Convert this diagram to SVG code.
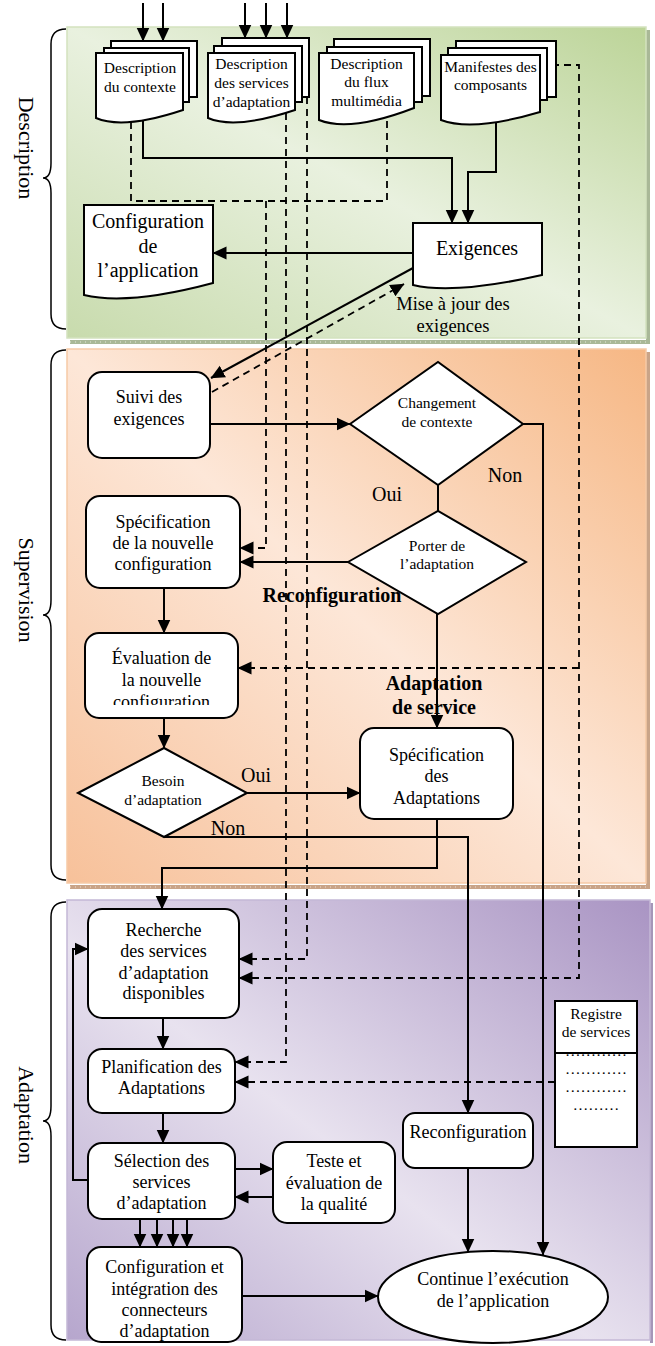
<svg xmlns="http://www.w3.org/2000/svg" width="655" height="1346" viewBox="0 0 655 1346">
<defs>
<linearGradient id="gG" x1="1" y1="0" x2="0" y2="1">
<stop offset="0" stop-color="#bcd498"/><stop offset="0.5" stop-color="#e9f1df"/><stop offset="1" stop-color="#c8dbad"/>
</linearGradient>
<linearGradient id="gO" x1="1" y1="0" x2="0" y2="1">
<stop offset="0" stop-color="#f6b784"/><stop offset="0.5" stop-color="#fde7d8"/><stop offset="1" stop-color="#f7c19a"/>
</linearGradient>
<linearGradient id="gP" x1="1" y1="0" x2="0" y2="1">
<stop offset="0" stop-color="#a994c3"/><stop offset="0.55" stop-color="#e8e2ef"/><stop offset="1" stop-color="#b6a6cd"/>
</linearGradient>
<marker id="ah" markerUnits="userSpaceOnUse" markerWidth="14" markerHeight="14" viewBox="0 0 14 14" refX="13.5" refY="7" orient="auto">
<path d="M0,0.5 L14,7 L0,13.5 Z" fill="#000"/>
</marker>
<clipPath id="evalClip"><rect x="85" y="633" width="153" height="72"/></clipPath>
</defs>
<style>
.box{fill:#fff;stroke:#000;stroke-width:2}
.ln{fill:none;stroke:#000;stroke-width:2}
.dl{fill:none;stroke:#000;stroke-width:1.8;stroke-dasharray:7 5}
.br{fill:none;stroke:#000;stroke-width:1.5}
text{font-family:"Liberation Serif","Times New Roman",serif;fill:#000;text-anchor:middle}
.t15{font-size:15.5px}
.t18{font-size:18px}
.t20{font-size:20px}
.t185{font-size:18.5px}
.b20{font-size:20px;font-weight:bold}
.sec{font-size:22px}
.tick{stroke-width:1;stroke-dasharray:1 4}
</style>
<rect width="655" height="1346" fill="#fff"/>

<g id="panel-description">
<rect x="70" y="340" width="580" height="4" fill="#a9b897"/>
<rect x="646" y="30" width="4" height="314" fill="#a9b897"/>
<line class="tick" x1="70" y1="342" x2="650" y2="342" stroke="#e2e9d8"/>
<rect x="67" y="27" width="579" height="311" fill="url(#gG)" stroke="#d3e2bf" stroke-width="1.5"/>
</g>
<g id="panel-supervision">
<rect x="70" y="885" width="580" height="4" fill="#c9a488"/>
<rect x="646" y="352" width="4" height="537" fill="#c9a488"/>
<line class="tick" x1="70" y1="887" x2="650" y2="887" stroke="#f0dccd"/>
<rect x="67" y="349" width="579" height="534" fill="url(#gO)" stroke="#f6caa6" stroke-width="1.5"/>
</g>
<g id="panel-adaptation">
<rect x="650" y="903" width="3" height="440" fill="#a596b8"/>
<rect x="67" y="900" width="583" height="440" fill="url(#gP)" stroke="#c4b8d6" stroke-width="1.5"/>
</g>

<g id="section-labels">
<path class="br" d="M66,29 Q51,29 51,44 V163 Q51,178 43,178 Q51,178 51,193 V314 Q51,329 66,329"/>
<path class="br" d="M66,350 Q51,350 51,365 V600 Q51,615 43,615 Q51,615 51,630 V865 Q51,880 66,880"/>
<path class="br" d="M66,902 Q51,902 51,917 V1106 Q51,1121 43,1121 Q51,1121 51,1136 V1325 Q51,1340 66,1340"/>
<text class="sec" transform="translate(19,148) rotate(90)">Description</text>
<text class="sec" transform="translate(19,590) rotate(90)">Supervision</text>
<text class="sec" transform="translate(19,1115) rotate(90)">Adaptation</text>
</g>

<g id="connectors">
<path class="ln" d="M143,3 V41" marker-end="url(#ah)"/>
<path class="ln" d="M163,3 V41" marker-end="url(#ah)"/>
<path class="ln" d="M245,3 V38" marker-end="url(#ah)"/>
<path class="ln" d="M266,3 V38" marker-end="url(#ah)"/>
<path class="ln" d="M287,3 V38" marker-end="url(#ah)"/>
<path class="dl" d="M131,122 V201 H387 V110"/>
<path class="dl" d="M266,201 V548 H240" marker-end="url(#ah)"/>
<path class="dl" d="M286,113 V1062 H235" marker-end="url(#ah)"/>
<path class="dl" d="M307,97 V959 H239" marker-end="url(#ah)"/>
<path class="dl" d="M540,65 H579 V978 H239" marker-end="url(#ah)"/>
<path class="dl" d="M579,668 H238" marker-end="url(#ah)"/>
<path class="dl" d="M555,1082 H235" marker-end="url(#ah)"/>
<path class="dl" d="M212,392 L404,284" marker-end="url(#ah)"/>
<path class="ln" d="M143,120 V158 H452 V223" marker-end="url(#ah)"/>
<path class="ln" d="M496,122 V172 H468 V223" marker-end="url(#ah)"/>
<path class="ln" d="M413,253 H213" marker-end="url(#ah)"/>
<path class="ln" d="M413,268 L211,378" marker-end="url(#ah)"/>
<path class="ln" d="M208,424 H350" marker-end="url(#ah)"/>
<path class="ln" d="M523,424 H543 V1255" marker-end="url(#ah)"/>
<path class="ln" d="M438,485 V511"/>
<path class="ln" d="M348,562 H240" marker-end="url(#ah)"/>
<path class="ln" d="M437,614 V728" marker-end="url(#ah)"/>
<path class="ln" d="M164,588 V633" marker-end="url(#ah)"/>
<path class="ln" d="M164,718 V748" marker-end="url(#ah)"/>
<path class="ln" d="M247,793 H360" marker-end="url(#ah)"/>
<path class="ln" d="M164,837 H468 V1113" marker-end="url(#ah)"/>
<path class="ln" d="M437,811 V868 H162 V909" marker-end="url(#ah)"/>
<path class="ln" d="M163,1018 V1049" marker-end="url(#ah)"/>
<path class="ln" d="M163,1113 V1143" marker-end="url(#ah)"/>
<path class="ln" d="M88,1180 H73 V949 H88" marker-end="url(#ah)"/>
<path class="ln" d="M235,1169 H273" marker-end="url(#ah)"/>
<path class="ln" d="M273,1197 H235" marker-end="url(#ah)"/>
<path class="ln" d="M140,1219 V1247" marker-end="url(#ah)"/>
<path class="ln" d="M157,1219 V1247" marker-end="url(#ah)"/>
<path class="ln" d="M173,1219 V1247" marker-end="url(#ah)"/>
<path class="ln" d="M187,1219 V1247" marker-end="url(#ah)"/>
<path class="ln" d="M242,1296 H378" marker-end="url(#ah)"/>
<path class="ln" d="M468,1168 V1252" marker-end="url(#ah)"/>
</g>

<g id="doc-contexte">
<rect class="box" x="111" y="41" width="86" height="56"/>
<rect class="box" x="104" y="48" width="85" height="54"/>
<path class="box" d="M96,53 H183 V110 C135,126 110,124 96,118 Z"/>
<text class="t15" x="140" y="73">Description</text>
<text class="t15" x="140" y="92">du contexte</text>
</g>
<g id="doc-services">
<rect class="box" x="222" y="38" width="87" height="59"/>
<rect class="box" x="214" y="46" width="88" height="56"/>
<path class="box" d="M208,53 H295 V110 C247,126 222,124 208,118 Z"/>
<text class="t15" x="251.5" y="69">Description</text>
<text class="t15" x="251.5" y="88">des services</text>
<text class="t15" x="251.5" y="107">d’adaptation</text>
</g>
<g id="doc-flux">
<rect class="box" x="334" y="39" width="96" height="57"/>
<rect class="box" x="327" y="47" width="95" height="55"/>
<path class="box" d="M319,53 H414 V108 C362,128 334,126 319,120 Z"/>
<text class="t15" x="366.5" y="69">Description</text>
<text class="t15" x="366.5" y="87">du flux</text>
<text class="t15" x="366.5" y="106">multimédia</text>
</g>
<g id="doc-manifestes">
<rect class="box" x="456" y="41" width="100" height="56"/>
<rect class="box" x="448" y="48" width="99" height="52"/>
<path class="box" d="M441,55 H540 V112 C486,128 457,126 441,120 Z"/>
<text class="t15" x="490.5" y="72">Manifestes des</text>
<text class="t15" x="490.5" y="90">composants</text>
</g>
<g id="doc-exigences">
<path class="box" d="M413,223 H542 V275 C471,291 434,290 413,285 Z"/>
<text class="t20" x="477" y="255">Exigences</text>
</g>
<g id="doc-configuration">
<path class="box" d="M84,205 H213 V283 C142,302 105,300 84,295 Z"/>
<text class="t20" x="148" y="228">Configuration</text>
<text class="t20" x="148" y="253">de</text>
<text class="t20" x="148" y="277">l’application</text>
</g>

<g id="node-suivi">
<rect class="box" x="88" y="372" width="122" height="86" rx="14"/>
<text class="t18" x="149" y="403">Suivi des</text>
<text class="t18" x="149" y="425">exigences</text>
</g>
<g id="node-changement">
<path class="box" d="M350,424 L438,362 L523,424 L438,485 Z"/>
<text class="t15" x="437" y="408">Changement</text>
<text class="t15" x="437" y="427">de contexte</text>
</g>
<g id="node-porter">
<path class="box" d="M348,562 L438,511 L526,562 L438,614 Z"/>
<text class="t15" x="437" y="551">Porter de</text>
<text class="t15" x="437" y="569">l’adaptation</text>
</g>
<g id="node-spec-config">
<rect class="box" x="86" y="496" width="154" height="92" rx="14"/>
<text class="t18" x="163" y="528">Spécification</text>
<text class="t18" x="163" y="549">de la nouvelle</text>
<text class="t18" x="163" y="570">configuration</text>
</g>
<g id="node-evaluation">
<rect class="box" x="85" y="633" width="153" height="85" rx="14"/>
<g clip-path="url(#evalClip)">
<text class="t18" x="161.5" y="664">Évaluation de</text>
<text class="t18" x="161.5" y="686">la nouvelle</text>
<text class="t18" x="161.5" y="708">configuration</text>
</g>
</g>
<g id="node-besoin">
<path class="box" d="M78,793 L164,748 L247,793 L164,837 Z"/>
<text class="t15" x="163" y="786">Besoin</text>
<text class="t15" x="163" y="805">d’adaptation</text>
</g>
<g id="node-spec-adapt">
<rect class="box" x="360" y="728" width="153" height="91" rx="14"/>
<text class="t18" x="436.5" y="761">Spécification</text>
<text class="t18" x="436.5" y="782">des</text>
<text class="t18" x="436.5" y="804">Adaptations</text>
</g>
<g id="node-recherche">
<rect class="box" x="88" y="909" width="151" height="109" rx="14"/>
<text class="t18" x="163.5" y="936">Recherche</text>
<text class="t18" x="163.5" y="957">des services</text>
<text class="t18" x="163.5" y="979">d’adaptation</text>
<text class="t18" x="163.5" y="999">disponibles</text>
</g>
<g id="node-planification">
<rect class="box" x="88" y="1049" width="147" height="64" rx="14"/>
<text class="t18" x="161.5" y="1073">Planification des</text>
<text class="t18" x="161.5" y="1094">Adaptations</text>
</g>
<g id="node-selection">
<rect class="box" x="88" y="1143" width="147" height="76" rx="14"/>
<text class="t18" x="161.5" y="1167">Sélection des</text>
<text class="t18" x="161.5" y="1188">services</text>
<text class="t18" x="161.5" y="1209">d’adaptation</text>
</g>
<g id="node-teste">
<rect class="box" x="273" y="1142" width="122" height="81" rx="14"/>
<text class="t18" x="334" y="1167">Teste et</text>
<text class="t18" x="334" y="1189">évaluation de</text>
<text class="t18" x="334" y="1210">la qualité</text>
</g>
<g id="node-config-integration">
<rect class="box" x="87" y="1247" width="155" height="95" rx="14"/>
<text class="t18" x="164.5" y="1273">Configuration et</text>
<text class="t18" x="164.5" y="1295">intégration des</text>
<text class="t18" x="164.5" y="1316">connecteurs</text>
<text class="t18" x="164.5" y="1337">d’adaptation</text>
</g>
<g id="node-reconfiguration">
<rect class="box" x="403" y="1113" width="130" height="55" rx="12"/>
<text class="t18" x="468" y="1138">Reconfiguration</text>
</g>
<g id="node-registre">
<rect class="box" x="555" y="1001" width="82" height="146"/>
<line class="ln" x1="555" y1="1053" x2="637" y2="1053"/>
<text class="t15" x="596" y="1019">Registre</text>
<text class="t15" x="596" y="1037">de services</text>
<text class="t15" x="596" y="1056">…………</text>
<text class="t15" x="596" y="1074">…………</text>
<text class="t15" x="596" y="1092">…………</text>
<text class="t15" x="596" y="1110">………</text>
</g>
<g id="node-continue">
<ellipse class="box" cx="493" cy="1297" rx="115" ry="46"/>
<text class="t18" x="493" y="1285">Continue l’exécution</text>
<text class="t18" x="493" y="1307">de l’application</text>
</g>

<g id="edge-labels">
<text class="t185" x="453" y="310">Mise à jour des</text>
<text class="t185" x="453" y="332">exigences</text>
<text class="t20" x="505" y="482">Non</text>
<text class="t20" x="387" y="501">Oui</text>
<text class="b20" x="332" y="602">Reconfiguration</text>
<text class="b20" x="434" y="690">Adaptation</text>
<text class="b20" x="434" y="714">de service</text>
<text class="t20" x="256" y="782">Oui</text>
<text class="t20" x="228" y="835">Non</text>
</g>
</svg>
